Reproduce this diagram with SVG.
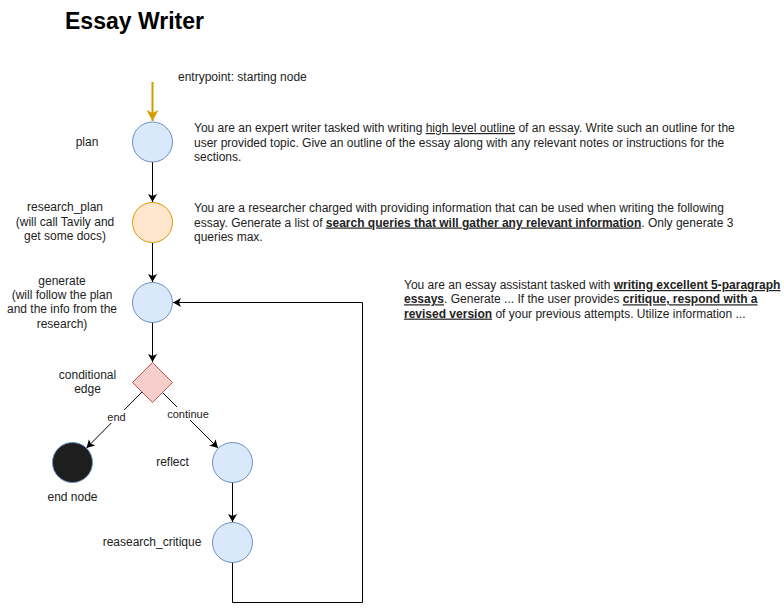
<svg xmlns="http://www.w3.org/2000/svg" width="784" height="613" viewBox="0 0 784 613">
<style>
text{font-family:"Liberation Sans",Arial,sans-serif;fill:#222;}
.lbl{font-size:12px;text-anchor:middle;}
.desc{font-size:12px;}
.elbl{font-size:11px;text-anchor:middle;}
.blue{fill:#dae8fc;stroke:#6c8ebf;stroke-width:1;}
.edge{fill:none;stroke:#000;stroke-width:1;}
.b{font-weight:bold;}
.u{text-decoration:underline;}
</style>
<defs>
<marker id="arr" markerUnits="userSpaceOnUse" markerWidth="10" markerHeight="10" refX="8" refY="4.5" orient="auto">
<path d="M0,0 L8,4.5 L0,9 L2,4.5 Z" fill="#000"/>
</marker>
<marker id="arrO" markerUnits="userSpaceOnUse" markerWidth="14" markerHeight="14" refX="11" refY="6" orient="auto">
<path d="M0,0 L11,6 L0,12 L3,6 Z" fill="#d79b00"/>
</marker>
</defs>
<rect width="784" height="613" fill="#fff"/>
<text x="65" y="29" style="font-size:23px;font-weight:bold;fill:#000">Essay Writer</text>

<g id="connectors">
<path class="edge" d="M152.5,82 L152.5,121" style="stroke:#d79b00;stroke-width:2" marker-end="url(#arrO)"/>
<path class="edge" d="M152.5,162 L152.5,202" marker-end="url(#arr)"/>
<path class="edge" d="M152.5,243 L152.5,282" marker-end="url(#arr)"/>
<path class="edge" d="M152.5,322 L152.5,362" marker-end="url(#arr)"/>
<path class="edge" d="M142,392 L86.5,448" marker-end="url(#arr)"/>
<path class="edge" d="M163,393 L218,448" marker-end="url(#arr)"/>
<path class="edge" d="M232.5,482 L232.5,522" marker-end="url(#arr)"/>
<path class="edge" d="M232.5,562 L232.5,602.5 L362.5,602.5 L362.5,302.5 L173,302.5" marker-end="url(#arr)"/>
<rect x="105" y="410" width="23" height="13" fill="#fff"/>
<text class="elbl" x="116.5" y="420.5">end</text>
<rect x="166" y="407" width="44" height="13" fill="#fff"/>
<text class="elbl" x="188" y="418">continue</text>
</g>

<g id="entrypoint">
<text class="desc" x="178" y="80.5">entrypoint: starting node</text>
</g>

<g id="plan">
<circle class="blue" cx="152.5" cy="142" r="20"/>
<text class="lbl" x="87" y="146">plan</text>
<text class="desc" x="194" y="132">You are an expert writer tasked with writing <tspan class="u">high level outline</tspan> of an essay. Write such an outline for the</text>
<text class="desc" x="194" y="146.5">user provided topic. Give an outline of the essay along with any relevant notes or instructions for the</text>
<text class="desc" x="194" y="161">sections.</text>
</g>

<g id="research_plan">
<circle cx="152.5" cy="222.5" r="20" style="fill:#ffe6cc;stroke:#d79b00"/>
<text class="lbl" x="65" y="211">research_plan</text>
<text class="lbl" x="65" y="225.5">(will call Tavily and</text>
<text class="lbl" x="65" y="240">get some docs)</text>
<text class="desc" x="194" y="211.5">You are a researcher charged with providing information that can be used when writing the following</text>
<text class="desc" x="194" y="226.5">essay. Generate a list of <tspan class="b u">search queries that will gather any relevant information</tspan>. Only generate 3</text>
<text class="desc" x="194" y="241">queries max.</text>
</g>

<g id="generate">
<circle class="blue" cx="152.5" cy="302.5" r="20"/>
<text class="lbl" x="62" y="285">generate</text>
<text class="lbl" x="62" y="299.2">(will follow the plan</text>
<text class="lbl" x="62" y="313.4">and the info from the</text>
<text class="lbl" x="62" y="327.6">research)</text>
<text class="desc" x="404" y="289">You are an essay assistant tasked with <tspan class="b u">writing excellent 5-paragraph</tspan></text>
<text class="desc" x="404" y="303.3"><tspan class="b u">essays</tspan>. Generate ... If the user provides <tspan class="b u">critique, respond with a</tspan></text>
<text class="desc" x="404" y="317.6"><tspan class="b u">revised version</tspan> of your previous attempts. Utilize information ...</text>
</g>

<g id="conditional_edge">
<path d="M152.5,362.5 L172.5,382.5 L152.5,402.5 L132.5,382.5 Z" style="fill:#f8cecc;stroke:#b85450"/>
<text class="lbl" x="87.5" y="379">conditional</text>
<text class="lbl" x="87.5" y="393.3">edge</text>
</g>

<g id="end_node">
<circle cx="72.5" cy="462.5" r="20" style="fill:#1e1e1e;stroke:#6c8ebf"/>
<text class="lbl" x="72.5" y="500.7">end node</text>
</g>

<g id="reflect">
<circle class="blue" cx="232.5" cy="462.5" r="20"/>
<text class="lbl" x="172.5" y="465.7">reflect</text>
</g>

<g id="reasearch_critique">
<circle class="blue" cx="232.5" cy="542.5" r="20"/>
<text class="lbl" x="152" y="545.7">reasearch_critique</text>
</g>
</svg>
